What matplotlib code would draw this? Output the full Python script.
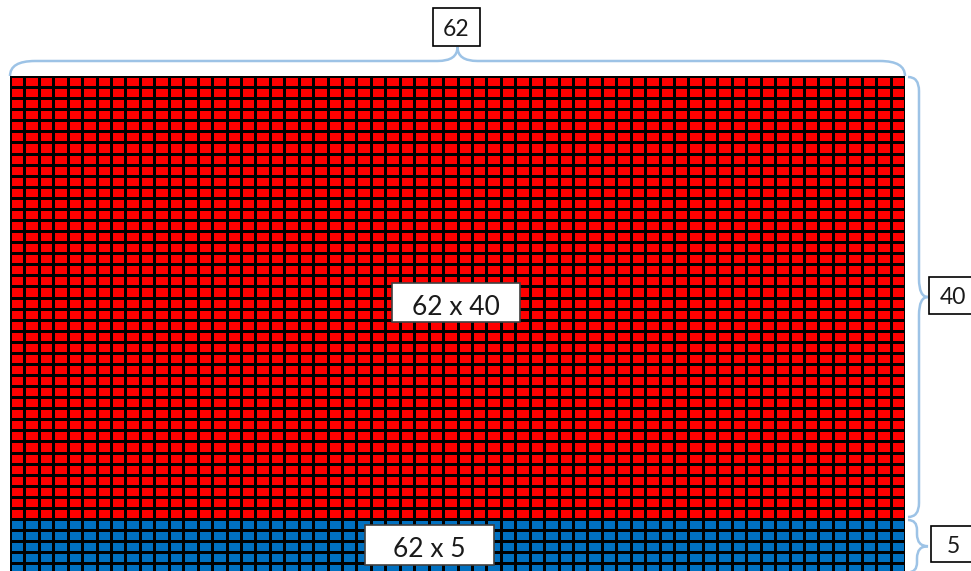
import numpy as np
import matplotlib
matplotlib.use("Agg")
import matplotlib.pyplot as plt
from matplotlib.colors import ListedColormap
from matplotlib.path import Path
from matplotlib.patches import PathPatch, Rectangle

# ---- data ----
n_cols = 62
part_rows = [40, 5]
part_colors = ["#FF0000", "#0070C0"]
part_labels = [f"{n_cols} x {r}" for r in part_rows]

W, H = 971, 571
fig = plt.figure(figsize=(W / 100, H / 100), dpi=100)

# grid layout (pixels)
GX0, GX1, GY0 = 10, 905, 76
row_h = 443 / part_rows[0]
total_rows = sum(part_rows)
GY1 = GY0 + total_rows * row_h

ax = fig.add_axes([GX0 / W, 1 - GY1 / H, (GX1 - GX0) / W, (GY1 - GY0) / H])
matrix = np.vstack([np.full((r, n_cols), i) for i, r in enumerate(part_rows)])
ax.pcolormesh(np.arange(n_cols + 1), np.arange(total_rows + 1), matrix,
              cmap=ListedColormap(part_colors), vmin=-0.5, vmax=len(part_rows) - 0.5,
              edgecolors="black", linewidth=0.75)
ax.set_xlim(0, n_cols)
ax.set_ylim(total_rows, 0)
ax.axis("off")

# overlay in pixel coords
ov = fig.add_axes([0, 0, 1, 1], zorder=5)
ov.set_xlim(0, W)
ov.set_ylim(H, 0)
ov.axis("off")
ov.patch.set_alpha(0)

BRACE = "#9DC3E6"

def hbrace(x0, x1, yb, yl, yt, re, rm):
    xm = (x0 + x1) / 2
    verts = [(x0, yb), (x0, yl), (x0 + re, yl), (xm - rm, yl), (xm, yl), (xm, yt),
             (xm, yl), (xm + rm, yl), (x1 - re, yl), (x1, yl), (x1, yb)]
    codes = [Path.MOVETO, Path.CURVE3, Path.CURVE3, Path.LINETO, Path.CURVE3, Path.CURVE3,
             Path.CURVE3, Path.CURVE3, Path.LINETO, Path.CURVE3, Path.CURVE3]
    ov.add_patch(PathPatch(Path(verts, codes), fill=False, ec=BRACE, lw=1.8))

def vbrace(y0, y1, xb, xl, xt, re, rm):
    ym = (y0 + y1) / 2
    verts = [(xb, y0), (xl, y0), (xl, y0 + re), (xl, ym - rm), (xl, ym), (xt, ym),
             (xl, ym), (xl, ym + rm), (xl, y1 - re), (xl, y1), (xb, y1)]
    codes = [Path.MOVETO, Path.CURVE3, Path.CURVE3, Path.LINETO, Path.CURVE3, Path.CURVE3,
             Path.CURVE3, Path.CURVE3, Path.LINETO, Path.CURVE3, Path.CURVE3]
    ov.add_patch(PathPatch(Path(verts, codes), fill=False, ec=BRACE, lw=1.8))

def box(x0, y0, x1, y1, text, size, ec="black", ty=None):
    ov.add_patch(Rectangle((x0, y0), x1 - x0, y1 - y0, fc="white", ec=ec, lw=1.2, zorder=6))
    ov.text((x0 + x1) / 2, ty, text, ha="center", va="baseline", fontsize=size,
            family=["Lato", "DejaVu Sans"], color="#1a1a1a", zorder=7)

# top brace (columns)
hbrace(GX0, GX1, GY0, 61, 47, 25, 20)
box(433, 8, 480, 46, str(n_cols), 16.5, ty=36)

# right braces (rows)
y_edges = [GY0]
for r in part_rows:
    y_edges.append(y_edges[-1] + r * row_h)
vbrace(y_edges[0] + 1, y_edges[1] - 2, 908, 919, 928, 14, 18)
vbrace(y_edges[1] + 1, y_edges[2] - 2, 908, 917, 928, 10, 12)
box(929, 277, 976, 314, str(part_rows[0]), 16.5, ty=304)
box(931, 526, 976, 562, str(part_rows[1]), 16.5, ty=553)

# inner labels
box(392, 283, 520, 322, part_labels[0], 19, ec="#404040", ty=315)
box(365, 525, 494, 565, part_labels[1], 19, ec="#404040", ty=557)

fig.savefig("out.png", dpi=100)
